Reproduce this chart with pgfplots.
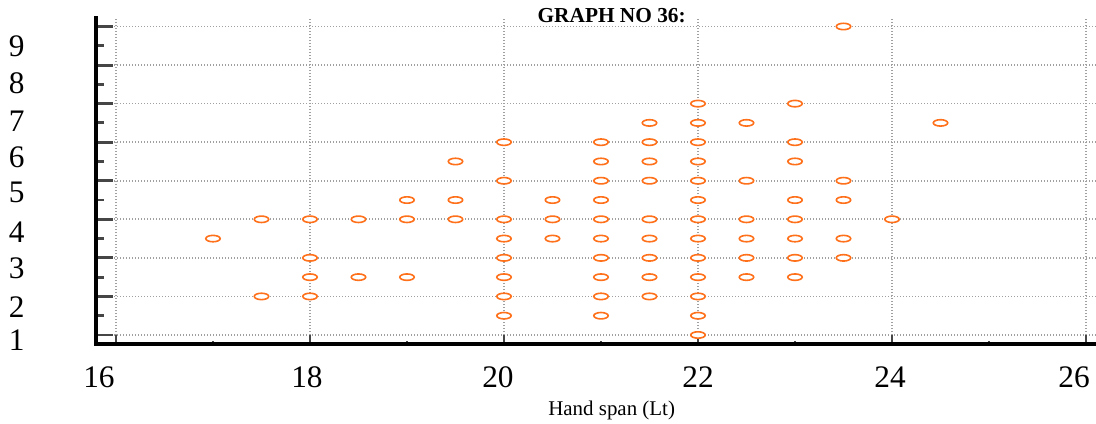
\documentclass[border=0pt]{standalone}
\usepackage{fontspec}
\setmainfont{Liberation Serif}
\usepackage{pgfplots}
\pgfplotsset{compat=1.18}
\definecolor{ptorange}{RGB}{255,112,26}
\definecolor{gridgray}{RGB}{160,160,160}
\definecolor{tickgray}{RGB}{70,70,70}
% label shifted sideways from its tick (first arg = twice the shift)
\newcommand\sh[2]{\makebox[0pt]{\hspace*{#1}#2}}
\pgfplotsset{
  common/.style={
    scale only axis,
    width=750pt, height=244.5pt,
    xmin=15.794, xmax=26.103,
    ymin=0.766, ymax=9.22,
    clip=false,
    axis line style={line width=2.5pt, black, line cap=rect},
    grid style={gridgray, line width=1.2pt, dash pattern=on 1pt off 1.25pt},
    tick align=inside,
    /pgf/number format/assume math mode=true,
    tick label style={font=\fontsize{23.5}{26}\selectfont},
  },
}
\begin{document}
\begin{tikzpicture}
% y grid and y tick marks
\begin{axis}[
    common,
    axis x line=none,
    axis y line*=left,
    xtick=\empty,
    ytick={1,2,3,4,5,6,7,8,9},
    yticklabels={},
    ymajorgrids=true,
    major tick length=13pt,
    ytick style={line width=2.2pt, tickgray},
    minor ytick={1.5,2.5,3.5,4.5,5.5,6.5,7.5,8.5},
    minor tick length=6pt,
    minor tick style={line width=0.8pt, tickgray},
]
\end{axis}
% x grid, x ticks, labels and data
\begin{axis}[
    common,
    axis x line*=bottom,
    axis y line*=left,
    major tick length=6.5pt,
    xtick={16,18,20,22,24,26},
    xticklabels={\sh{-25.5pt}{16},\sh{-4.5pt}{18},\sh{-9pt}{20},22,\sh{-3pt}{24},\sh{-18pt}{26}},
    xtick style={line width=2.2pt, tickgray},
    xmajorgrids=true,
    minor xtick={17,19,21,23,25},
    minor tick length=2pt,
    minor tick style={line width=0.8pt, black},
    xticklabel style={yshift=-13.5pt},
    ytick={0.87,1.727,2.74,3.675,4.69,5.6,6.53,7.52,8.48},
    yticklabels={1,2,3,4,5,6,7,8,9},
    ytick style={draw=none},
    yticklabel style={xshift=-50pt},
]
\addplot[only marks, mark=*, mark size=2.4pt,
    mark options={xscale=2.25, line width=1.2pt, draw=ptorange, fill=white}]
coordinates {
(23.5,9)
(22,7)(23,7)
(21.5,6.5)(22,6.5)(22.5,6.5)(24.5,6.5)
(20,6)(21,6)(21.5,6)(22,6)(23,6)
(19.5,5.5)(21,5.5)(21.5,5.5)(22,5.5)(23,5.5)
(20,5)(21,5)(21.5,5)(22,5)(22.5,5)(23.5,5)
(19,4.5)(19.5,4.5)(20.5,4.5)(21,4.5)(22,4.5)(23,4.5)(23.5,4.5)
(17.5,4)(18,4)(18.5,4)(19,4)(19.5,4)(20,4)(20.5,4)(21,4)(21.5,4)(22,4)(22.5,4)(23,4)(24,4)
(17,3.5)(20,3.5)(20.5,3.5)(21,3.5)(21.5,3.5)(22,3.5)(22.5,3.5)(23,3.5)(23.5,3.5)
(18,3)(20,3)(21,3)(21.5,3)(22,3)(22.5,3)(23,3)(23.5,3)
(18,2.5)(18.5,2.5)(19,2.5)(20,2.5)(21,2.5)(21.5,2.5)(22,2.5)(22.5,2.5)(23,2.5)
(17.5,2)(18,2)(20,2)(21,2)(21.5,2)(22,2)
(20,1.5)(21,1.5)(22,1.5)
(22,1)
};
\node[font=\fontsize{16}{19}\selectfont\bfseries, yshift=1.5pt] at (axis cs:21.11,9.22) {GRAPH NO 36:};
\node[font=\fontsize{15.7}{18}\selectfont, yshift=-49.5pt] at (axis cs:21.11,0.766) {Hand span (Lt)};
\coordinate (bl) at (rel axis cs:0,0);
\coordinate (tr) at (rel axis cs:1,1);
\end{axis}
\pgfresetboundingbox
\path ([xshift=-72pt,yshift=-59.25pt]bl) rectangle ([yshift=13.5pt]tr);
\end{tikzpicture}
\end{document}
